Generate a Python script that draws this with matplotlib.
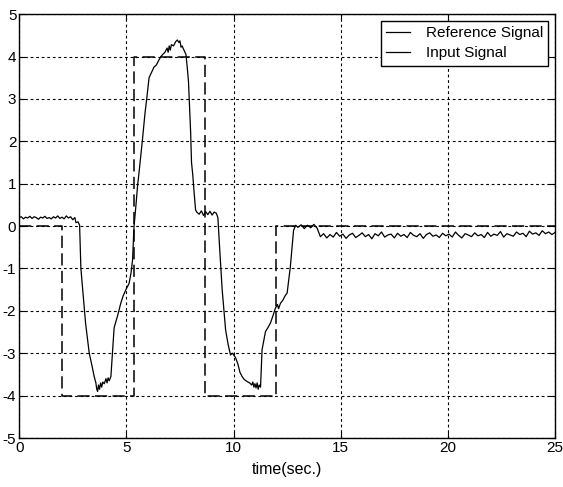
import matplotlib

matplotlib.use("Agg")
import matplotlib.pyplot as plt
import numpy as np

plt.rcParams["font.family"] = ["Liberation Sans", "DejaVu Sans"]
plt.rcParams["axes.unicode_minus"] = False

# reference signal: step levels (sec, value)
ref_t = [0, 2.0, 2.0, 5.38, 5.38, 8.68, 8.68, 12.0, 12.0, 25]
ref_y = [0, 0, -4, -4, 4, 4, -4, -4, 0, 0]

# input signal
in_t = [0.0, 0.1, 0.2, 0.3, 0.4, 0.5, 0.6, 0.7, 0.8, 0.9, 1.0, 1.1, 1.2, 1.3,
        1.4, 1.5, 1.6, 1.7, 1.8, 1.9, 2.0, 2.1, 2.2, 2.3, 2.4, 2.5, 2.6, 2.65,
        2.75, 2.82, 2.88, 3.1, 3.27, 3.4, 3.5, 3.58, 3.62, 3.66, 3.7, 3.75,
        3.8, 3.85, 3.9, 3.97, 4.05, 4.1, 4.15, 4.2, 4.28, 4.35, 4.43, 4.6,
        4.74, 4.85, 4.98, 5.13, 5.22, 5.29, 5.36, 5.45, 5.52, 5.6, 5.75, 5.87,
        5.95, 6.06, 6.15, 6.29, 6.4, 6.5, 6.6, 6.7, 6.8, 6.9, 6.95, 7.0, 7.05,
        7.1, 7.2, 7.3, 7.38, 7.45, 7.5, 7.55, 7.6, 7.69, 7.78, 7.84, 7.9, 8.0,
        8.04, 8.1, 8.16, 8.23, 8.3, 8.4, 8.5, 8.6, 8.7, 8.8, 8.9, 9.0, 9.1,
        9.2, 9.27, 9.35, 9.47, 9.63, 9.75, 9.86, 9.95, 10.09, 10.2, 10.3, 10.4,
        10.5, 10.64, 10.75, 10.85, 10.9, 10.95, 11.0, 11.05, 11.1, 11.15, 11.2,
        11.26, 11.33, 11.49, 11.6, 11.72, 11.85, 11.95, 12.05, 12.1, 12.19,
        12.3, 12.4, 12.5, 12.65, 12.8, 12.9]
in_y = [0.2, 0.22, 0.17, 0.21, 0.19, 0.23, 0.18, 0.22, 0.2, 0.16, 0.21, 0.19,
        0.23, 0.18, 0.2, 0.17, 0.22, 0.19, 0.24, 0.18, 0.21, 0.17, 0.24, 0.19,
        0.22, 0.15, 0.2, 0.08, 0.1, 0.02, -1.0, -2.3, -3.0, -3.3, -3.55, -3.7,
        -3.85, -3.9, -3.75, -3.85, -3.7, -3.8, -3.68, -3.72, -3.6, -3.7, -3.58,
        -3.65, -3.55, -3.0, -2.4, -2.1, -1.82, -1.65, -1.5, -1.35, -1.1, -0.8,
        0.0, 0.5, 0.93, 1.3, 2.03, 2.66, 3.0, 3.5, 3.6, 3.75, 3.8, 3.9, 3.99,
        4.05, 4.1, 4.2, 4.1, 4.25, 4.15, 4.28, 4.25, 4.35, 4.39, 4.33, 4.37,
        4.22, 4.25, 4.15, 4.05, 3.75, 3.4, 2.2, 1.5, 1.2, 0.8, 0.38, 0.32, 0.28,
        0.36, 0.25, 0.34, 0.27, 0.35, 0.26, 0.33, 0.3, 0.2, -0.5, -1.5, -2.45,
        -2.8, -3.04, -3.0, -3.1, -3.25, -3.45, -3.55, -3.62, -3.67, -3.7, -3.75,
        -3.68, -3.8, -3.72, -3.82, -3.7, -3.85, -3.75, -3.8, -2.92, -2.49, -2.4,
        -2.29, -2.1, -1.94, -1.85, -1.95, -1.82, -1.75, -1.65, -1.58, -0.96,
        -0.1, 0.02]

# noisy tail after settling, one value every 0.15 s from 13.0 s
tail_start = 13.0
tail_step = 0.15
tail_y = [-0.03, 0.03, -0.06, 0.02, -0.04, 0.04, -0.05, -0.25, -0.18, -0.28,
          -0.2, -0.26, -0.15, -0.24, -0.19, -0.29, -0.21, -0.17, -0.27, -0.22,
          -0.16, -0.25, -0.2, -0.3, -0.18, -0.23, -0.14, -0.26, -0.21, -0.19,
          -0.28, -0.17, -0.24, -0.2, -0.27, -0.15, -0.22, -0.25, -0.18, -0.29,
          -0.2, -0.16, -0.24, -0.21, -0.27, -0.17, -0.23, -0.19, -0.26, -0.14,
          -0.22, -0.28, -0.18, -0.21, -0.25, -0.16, -0.23, -0.2, -0.27, -0.15,
          -0.24, -0.19, -0.22, -0.13, -0.26, -0.18, -0.21, -0.24, -0.14, -0.2,
          -0.17, -0.25, -0.12, -0.19, -0.16, -0.22, -0.11, -0.18, -0.14, -0.2,
          -0.15]

xticks = [0, 5, 10, 15, 20, 25]
yticks = [-5, -4, -3, -2, -1, 0, 1, 2, 3, 4, 5]


def main():
    t_tail = tail_start + tail_step * np.arange(len(tail_y))
    t = np.concatenate([in_t, t_tail])
    y = np.concatenate([in_y, tail_y])

    fig = plt.figure(figsize=(5.63, 4.87), dpi=100)
    ax = fig.add_axes([0.034, 0.1006, 0.952, 0.8704])

    ax.plot(ref_t, ref_y, color="black", lw=1.1, dashes=(8, 3.5),
            label="Reference Signal")
    ax.plot(t, y, color="black", lw=0.9, label="Input Signal")

    ax.set_xlim(0, 25)
    ax.set_ylim(-5, 5)
    ax.set_xticks(xticks)
    ax.set_yticks(yticks)
    ax.grid(True, color="black", linestyle=(0, (2.5, 2.5)), lw=0.8)
    ax.tick_params(direction="in", length=4, labelsize=11, pad=2,
                   top=True, right=True)
    for s in ax.spines.values():
        s.set_linewidth(1.0)
    ax.set_xlabel("time(sec.)", fontsize=11.5, labelpad=5)

    leg = ax.legend(loc="upper right", fontsize=11, frameon=True, fancybox=False,
                    edgecolor="black", framealpha=1, handlelength=1.6,
                    borderaxespad=0.45, borderpad=0.35, labelspacing=0.4,
                    handletextpad=1.0)
    leg.get_frame().set_linewidth(1.0)
    for line in leg.get_lines():
        line.set_linestyle("-")
        line.set_linewidth(0.9)

    fig.savefig("out.png", dpi=100)


if __name__ == "__main__":
    main()
